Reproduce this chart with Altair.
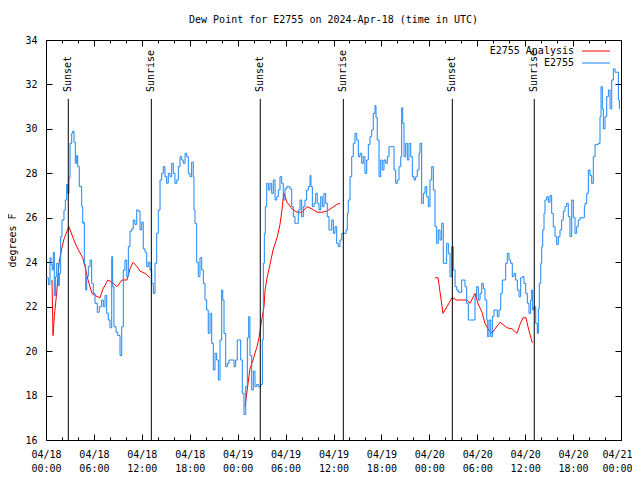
import altair as alt
import pandas as pd

FONT = "DejaVu Sans Mono"
START = pd.Timestamp("2024-04-18T00:00:00Z")

# ---- observed dew point (hours after 2024-04-18 00:00 UTC, deg F) ----
blue_hours = [
    0.00, 0.29, 0.50, 0.63, 0.79, 0.91, 1.04, 1.21, 1.34, 1.54, 1.67, 1.84, 2.00, 2.25, 2.42, 2.59,
    2.72, 2.88, 3.01, 3.22, 3.34, 3.51, 3.67, 3.84, 3.97, 4.17, 4.47, 4.60, 4.67, 4.80, 4.97, 5.10,
    5.30, 5.51, 5.72, 5.92, 6.14, 6.42, 6.67, 6.97, 7.18, 7.39, 7.60, 7.80, 8.01, 8.23, 8.35, 8.51,
    8.77, 8.98, 9.27, 9.48, 9.68, 9.89, 10.11, 10.31, 10.52, 10.73, 10.93, 11.14, 11.36, 11.56, 11.77, 11.98,
    12.18, 12.40, 12.61, 12.81, 13.02, 13.24, 13.44, 13.65, 13.86, 14.06, 14.28, 14.49, 14.69, 14.90, 15.11, 15.31,
    15.53, 15.74, 15.94, 16.15, 16.37, 16.57, 16.78, 16.99, 17.19, 17.41, 17.62, 17.82, 18.03, 18.24, 18.44, 18.53,
    18.66, 18.87, 19.07, 19.28, 19.50, 19.70, 19.91, 20.12, 20.32, 20.54, 20.75, 20.95, 21.16, 21.37, 21.58, 21.79,
    22.00, 22.13, 22.29, 22.50, 22.70, 22.92, 23.33, 23.54, 23.75, 23.95, 24.17, 24.38, 24.58, 24.79, 25.01, 25.21,
    25.38, 25.54, 25.76, 25.96, 26.17, 26.38, 26.58, 26.88, 27.09, 27.21, 27.34, 27.46, 27.64, 27.84, 28.05, 28.26,
    28.46, 28.68, 28.89, 29.09, 29.30, 29.51, 29.71, 29.93, 30.14, 30.34, 30.55, 30.77, 30.97, 31.18, 31.39, 31.59,
    31.81, 32.02, 32.22, 32.43, 32.64, 32.85, 33.06, 33.18, 33.35, 33.56, 33.77, 33.97, 34.18, 34.40, 34.60, 34.81,
    35.02, 35.22, 35.44, 35.56, 35.78, 35.98, 36.19, 36.40, 36.60, 36.81, 37.03, 37.32, 37.57, 37.73, 37.85, 38.07,
    38.28, 38.48, 38.69, 38.91, 39.11, 39.32, 39.53, 39.73, 39.94, 40.16, 40.36, 40.57, 40.78, 40.98, 41.20, 41.32,
    41.48, 41.70, 41.91, 42.11, 42.32, 42.54, 42.74, 42.95, 43.16, 43.36, 43.58, 43.79, 43.99, 44.20, 44.42, 44.54,
    44.67, 44.83, 45.04, 45.24, 45.45, 45.67, 45.87, 46.08, 46.29, 46.49, 46.71, 46.83, 47.04, 47.25, 47.46, 47.67,
    47.87, 48.08, 48.30, 48.50, 48.71, 48.92, 49.12, 49.34, 49.55, 49.75, 49.96, 50.17, 50.38, 50.59, 50.80, 51.00,
    51.22, 51.43, 51.63, 51.84, 52.05, 52.25, 52.47, 52.68, 52.88, 53.31, 53.51, 53.72, 53.93, 54.13, 54.35, 54.56,
    54.76, 54.97, 55.19, 55.31, 55.47, 55.69, 55.89, 56.10, 56.31, 56.51, 56.72, 56.94, 57.14, 57.35, 57.56, 57.76,
    57.98, 58.19, 58.39, 58.60, 58.81, 59.02, 59.23, 59.44, 59.64, 59.85, 60.07, 60.27, 60.48, 60.69, 60.82, 60.94,
    61.11, 61.32, 61.52, 61.65, 61.77, 61.95, 62.07, 62.20, 62.36, 62.48, 62.70, 62.90, 63.11, 63.32, 63.52, 63.74,
    63.95, 64.15, 64.36, 64.57, 64.78, 64.99, 65.20, 65.40, 65.61, 65.83, 66.03, 66.24, 66.45, 66.65, 66.87, 67.20,
    67.41, 67.49, 67.71, 67.91, 68.12, 68.33, 68.53, 68.75, 68.96, 69.16, 69.37, 69.50, 69.66, 69.79, 70.00, 70.21,
    70.42, 70.63, 70.84, 71.04, 71.26, 71.47, 71.67, 71.80,
]
blue_dewpt = [
    23.3, 23.0, 24.2, 23.9, 23.65, 24.45, 22.5, 23.35, 23.95, 22.95, 23.5, 25.15, 25.9, 26.35, 26.8, 27.5,
    27.1, 27.8, 29.35, 29.8, 29.9, 29.4, 28.45, 28.8, 28.3, 27.4, 26.5, 25.75, 25.8, 23.9, 22.75, 23.35,
    23.8, 24.1, 23.05, 22.6, 22.15, 21.75, 22.0, 22.3, 22.0, 22.5, 21.7, 21.4, 21.05, 24.25, 22.9, 21.1,
    20.85, 20.7, 19.8, 21.1, 23.65, 24.1, 23.35, 24.7, 25.4, 25.5, 25.9, 25.7, 26.35, 26.3, 25.45, 25.8,
    24.6, 24.45, 23.8, 24.0, 23.65, 23.05, 22.6, 23.95, 25.3, 26.35, 27.7, 28.0, 28.3, 27.85, 27.55, 28.0,
    27.85, 28.45, 28.0, 27.55, 27.7, 28.3, 28.75, 28.6, 28.45, 28.9, 28.75, 28.0, 27.85, 28.5, 27.85, 26.35,
    25.75, 24.0, 23.35, 24.2, 23.65, 23.05, 22.3, 21.85, 20.8, 21.7, 20.35, 19.15, 19.9, 19.6, 18.7, 20.5,
    22.75, 22.3, 20.8, 19.3, 19.45, 19.6, 19.6, 19.3, 19.6, 20.5, 20.5, 19.6, 18.1, 17.15, 18.4, 20.6,
    21.55, 19.8, 18.25, 19.1, 18.4, 18.5, 18.4, 18.5, 20.5, 23.95, 25.3, 26.5, 27.55, 27.25, 27.55, 27.1,
    27.7, 26.8, 26.95, 27.25, 27.85, 27.55, 26.8, 27.3, 27.4, 27.4, 27.3, 26.5, 26.05, 25.75, 25.75, 26.35,
    26.8, 26.05, 26.5, 26.8, 27.25, 27.4, 27.9, 27.4, 26.5, 26.65, 27.1, 26.65, 26.35, 26.95, 26.5, 27.1,
    26.65, 26.05, 25.45, 25.45, 25.9, 25.3, 25.6, 24.85, 24.7, 25.0, 25.3, 25.3, 25.45, 26.2, 26.8, 27.85,
    28.75, 29.35, 29.8, 29.5, 28.75, 28.9, 28.45, 28.75, 28.0, 28.6, 29.3, 29.65, 29.95, 30.7, 31.05, 30.5,
    29.5, 27.85, 28.6, 28.15, 28.6, 28.45, 28.75, 29.2, 29.2, 29.2, 28.15, 27.55, 27.7, 28.3, 28.75, 30.95,
    30.25, 28.75, 29.35, 28.6, 29.35, 28.75, 27.85, 27.7, 27.85, 28.15, 28.9, 29.35, 26.65, 27.1, 27.4, 26.95,
    26.5, 27.7, 28.3, 27.25, 25.6, 24.85, 25.45, 25.0, 25.75, 23.95, 23.95, 24.85, 24.4, 23.35, 24.7, 23.65,
    22.9, 22.75, 22.65, 22.65, 23.2, 23.2, 22.9, 22.15, 21.4, 21.4, 21.4, 22.45, 22.9, 22.3, 22.6, 23.05,
    22.8, 22.3, 21.4, 20.65, 21.4, 20.65, 21.55, 21.85, 21.85, 21.55, 21.85, 22.6, 23.2, 23.2, 23.95, 24.4,
    24.1, 23.95, 23.35, 23.5, 23.2, 22.75, 22.45, 23.3, 23.35, 23.05, 22.6, 22.15, 21.7, 22.3, 22.75, 21.85,
    22.0, 21.25, 20.8, 21.9, 23.05, 23.95, 24.7, 25.45, 26.2, 26.8, 26.95, 26.7, 27.0, 26.2, 25.6, 25.15,
    24.8, 25.15, 25.45, 25.9, 26.3, 26.5, 26.65, 26.05, 25.15, 26.8, 26.0, 25.3, 25.6, 25.9, 26.0, 26.0,
    26.5, 26.65, 27.1, 28.15, 27.9, 27.55, 28.75, 29.3, 29.3, 29.35, 30.55, 31.9, 30.9, 30.0, 30.55, 31.45,
    31.75, 30.9, 32.2, 32.7, 32.55, 32.55, 31.3, 30.9,
]

# ---- analysis dew point, three separate runs ----
red1_hours = [0.75, 0.88, 1.05, 1.25, 1.45, 1.65, 1.96, 2.30, 2.87, 3.38, 3.84, 4.60, 4.88, 5.26, 5.76,
              6.14, 6.76, 7.14, 7.76, 8.26, 8.89, 9.52, 10.14, 10.52, 10.90, 11.40, 11.77, 12.40, 13.02]
red1_dewpt = [23.2, 20.7, 21.6, 22.3, 23.1, 24.0, 24.6, 25.1, 25.6, 25.1, 24.7, 24.2, 23.8, 23.2, 22.6,
              22.5, 22.4, 22.8, 23.2, 23.1, 22.9, 23.2, 23.2, 23.7, 24.0, 23.8, 23.6, 23.5, 23.3]
red2_hours = [24.92, 25.54, 25.92, 26.42, 26.67, 27.05, 27.30, 27.43, 27.68, 28.05, 28.43, 28.93, 29.30, 29.55,
              29.68, 29.80, 30.18, 30.80, 31.43, 32.05, 32.68, 33.30, 33.93, 34.55, 35.18, 35.81, 36.43, 36.81]
red2_dewpt = [17.5, 19.2, 19.6, 20.2, 20.6, 21.5, 22.0, 22.75, 23.3, 23.9, 24.55, 25.1, 25.7, 26.35,
              26.8, 27.1, 26.7, 26.4, 26.25, 26.25, 26.5, 26.4, 26.25, 26.25, 26.3, 26.45, 26.6, 26.65]
red3_hours = [48.71, 49.09, 49.71, 50.21, 50.84, 51.46, 52.09, 52.72, 53.09, 53.72, 54.09, 54.59, 54.97,
              55.34, 55.85, 56.22, 56.85, 57.73, 58.35, 58.98, 59.35, 59.73, 60.10, 60.35, 60.86, 61.00]
red3_dewpt = [23.3, 23.3, 21.7, 22.0, 22.4, 22.3, 22.3, 22.3, 22.15, 22.6, 22.15, 21.75, 21.25,
              21.0, 20.8, 21.0, 21.3, 21.05, 21.0, 20.8, 21.2, 21.5, 21.5, 21.1, 20.4, 20.4]

# ---- sunrise / sunset (hours after start) ----
sun_hours = [2.79, 13.19, 26.83, 37.23, 50.88, 61.14]
sun_labels = ["Sunset", "Sunrise", "Sunset", "Sunrise", "Sunset", "Sunrise"]

series_names = ["E2755 Analysis", "E2755"]
series_colors = ["#ff0000", "#1a86f5"]
y_ticks = [16, 18, 20, 22, 24, 26, 28, 30, 32, 34]
x_range_hours = [0, 72]
x_major_hours = list(range(0, 73, 6))
x_minor_hours = list(range(0, 73, 2))


def ms(hours):
    return [int((START + pd.Timedelta(hours=h)).timestamp() * 1000) for h in hours]


blue_df = pd.DataFrame({"time": ms(blue_hours), "dewpt": blue_dewpt, "series": "E2755"})
red_parts = []
for i, (hh, vv) in enumerate([(red1_hours, red1_dewpt), (red2_hours, red2_dewpt), (red3_hours, red3_dewpt)]):
    red_parts.append(pd.DataFrame({"time": ms(hh), "dewpt": vv, "series": "E2755 Analysis", "seg": i}))
red_df = pd.concat(red_parts, ignore_index=True)
sun_df = pd.DataFrame({"time": ms(sun_hours), "label": sun_labels})

x_domain = ms(x_range_hours)
xscale = alt.Scale(type="utc", domain=x_domain)
yscale = alt.Scale(domain=[16, 34], nice=False, zero=False)

# legend: a long horizontal stroke to the right of right-aligned labels
color = alt.Color("series:N", scale=alt.Scale(domain=series_names, range=series_colors),
                  legend=alt.Legend(orient="none", legendX=545, legendY=6, title=None,
                                    symbolType="M-4,0H4", symbolSize=49, symbolStrokeWidth=1,
                                    labelAlign="right", labelOffset={"expr": "-27"}, labelFont=FONT,
                                    labelFontSize=10, labelColor="black", rowPadding=2,
                                    labelLimit=0))

tick_common = dict(domain=False, grid=False, tickColor="black", tickWidth=1)

ax_bottom_major = alt.Axis(orient="bottom", offset=-6, tickSize=6, values=ms(x_major_hours),
                           labelExpr="[utcFormat(datum.value, '%m/%d'), utcFormat(datum.value, '%H:%M')]",
                           labelBaseline="top", labelPadding=9, labelLineHeight=14, labelFont=FONT,
                           labelFontSize=10, labelColor="black", labelFlush=False, labelOverlap=False,
                           labelOffset={"condition": {"test": f"datum.value >= {x_domain[1]}", "value": -4},
                                        "value": 0},
                           title=None, **tick_common)
ax_top_major = alt.Axis(orient="top", offset=-6, tickSize=6, labels=False, title=None,
                        values=ms(x_major_hours), **tick_common)
ax_bottom_minor = alt.Axis(orient="bottom", offset=-3, tickSize=3, labels=False, title=None,
                           values=ms(x_minor_hours), **tick_common)
ax_top_minor = alt.Axis(orient="top", offset=-3, tickSize=3, labels=False, title=None,
                        values=ms(x_minor_hours), **tick_common)

ay_left = alt.Axis(orient="left", offset=-6, tickSize=6, values=y_ticks, labelPadding=9,
                   labelFont=FONT, labelFontSize=10, labelColor="black",
                   title="degrees F", titleFont=FONT, titleFontSize=10, titleFontWeight="normal",
                   titleColor="black", titleAngle=270, titleX=-40, titleY=200,
                   titleAlign="center", titleBaseline="middle", **tick_common)
ay_right = alt.Axis(orient="right", offset=-6, tickSize=6, values=y_ticks, labels=False,
                    title=None, **tick_common)

red = alt.Chart(red_df).mark_line(strokeWidth=1).encode(
    x=alt.X("time:T", scale=xscale, axis=ax_bottom_major),
    y=alt.Y("dewpt:Q", scale=yscale, axis=ay_left),
    color=color,
    detail="seg:N",
)
blue = alt.Chart(blue_df).mark_line(strokeWidth=1, interpolate="step-after").encode(
    x=alt.X("time:T", scale=xscale, axis=ax_top_major),
    y=alt.Y("dewpt:Q", scale=yscale, axis=ay_right),
    color=color,
)
rules = alt.Chart(sun_df).mark_rule(color="black", strokeWidth=1).encode(
    x=alt.X("time:T", scale=xscale, axis=ax_bottom_minor),
    y=alt.YDatum(31.35, axis=None),
    y2=alt.Y2Datum(16),
)
labels = alt.Chart(sun_df).mark_text(angle=270, align="left", baseline="middle", font=FONT,
                                     fontSize=10, color="black").encode(
    x=alt.X("time:T", scale=xscale, axis=ax_top_minor),
    y=alt.YDatum(31.66, axis=None),
    text="label:N",
)

chart = alt.layer(red, blue, rules, labels).resolve_axis(
    x="independent", y="independent"
).properties(
    width=575, height=400,
    title=alt.Title("Dew Point for E2755 on 2024-Apr-18 (time in UTC)", font=FONT, fontSize=10,
                    fontWeight="normal", color="black", anchor="middle", offset=15, dy=13,
                    baseline="alphabetic", frame="group"),
    autosize=alt.AutoSizeParams(type="none"),
    padding={"left": 38, "top": 32, "right": 11, "bottom": 32},
    background="white",
).configure_view(stroke="black", strokeWidth=1)

chart.save("out.html", embed_options={"renderer": "svg", "actions": False})
